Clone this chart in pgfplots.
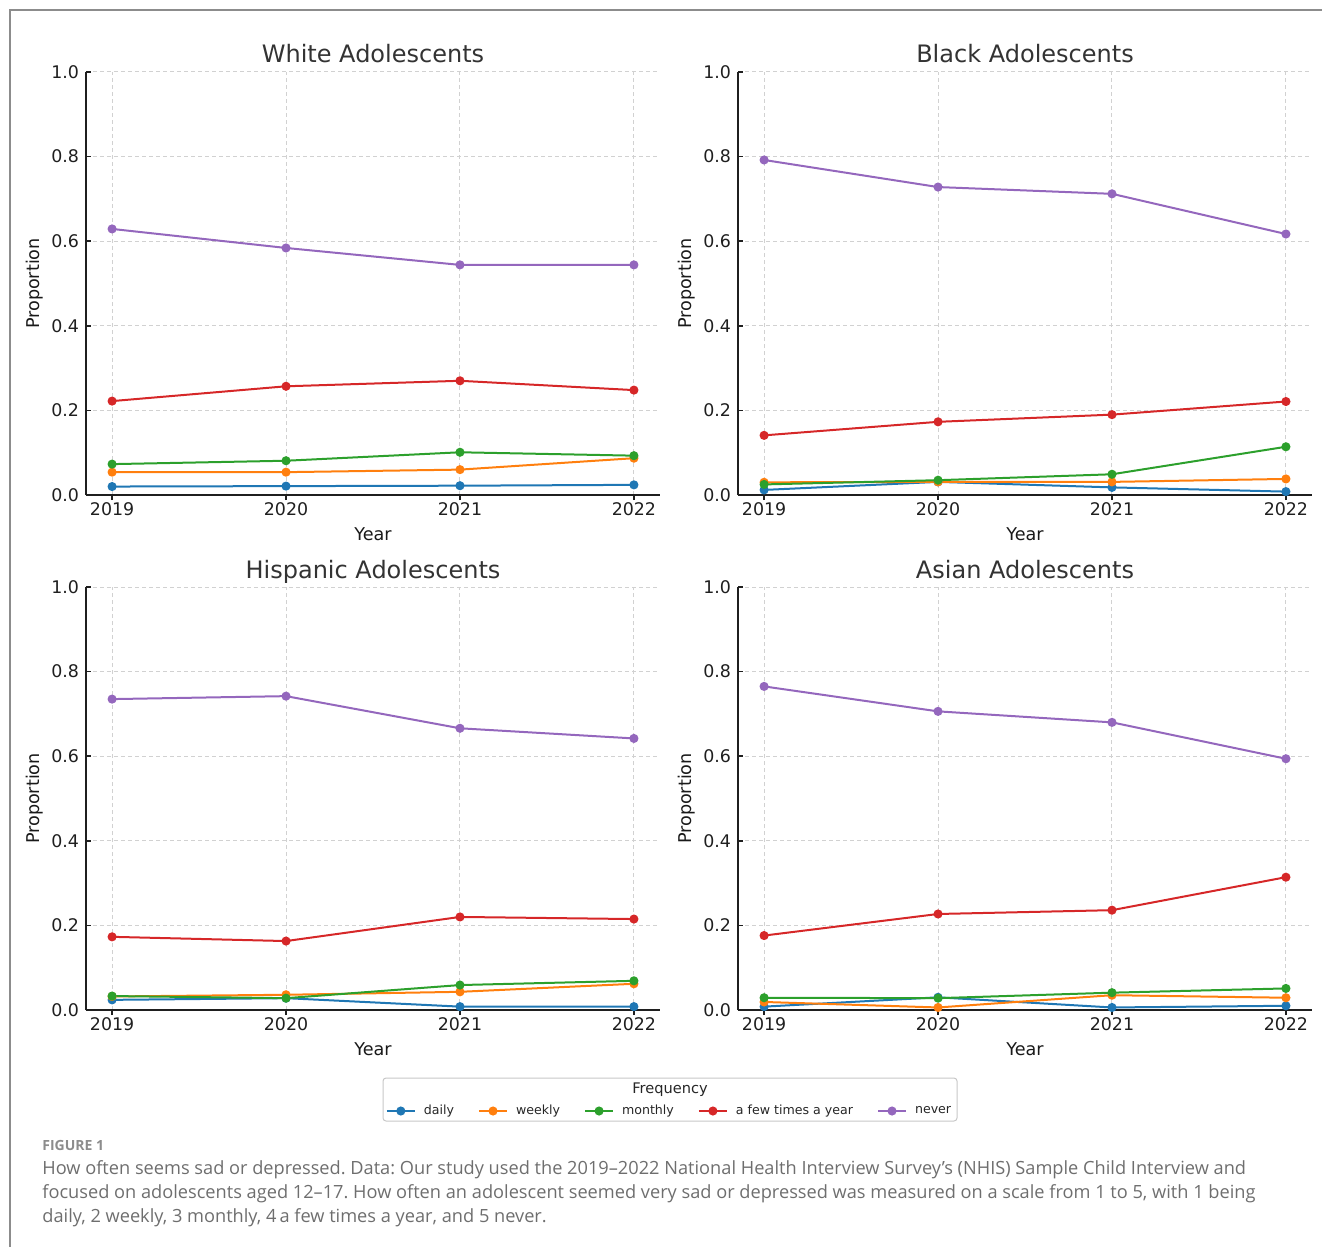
\documentclass[border=0pt]{standalone}
\usepackage{fontspec}
\setmainfont{DejaVu Sans}
\newfontfamily\capfont{Open Sans}
\usepackage{pgfplots}
\usepackage{pgfplotstable}
\pgfplotsset{compat=1.18}
\definecolor{cdaily}{HTML}{1F77B4}
\definecolor{cweekly}{HTML}{FF7F0E}
\definecolor{cmonthly}{HTML}{2CA02C}
\definecolor{cfew}{HTML}{D62728}
\definecolor{cnever}{HTML}{9467BD}
\definecolor{captxt}{HTML}{6E6E6E}

\pgfplotstableread{
year daily weekly monthly few never
2019 0.020 0.054 0.073 0.222 0.629
2020 0.021 0.054 0.081 0.257 0.584
2021 0.022 0.060 0.101 0.270 0.544
2022 0.024 0.087 0.093 0.248 0.544
}\tabwhite
\pgfplotstableread{
year daily weekly monthly few never
2019 0.012 0.030 0.025 0.141 0.792
2020 0.031 0.031 0.035 0.173 0.728
2021 0.018 0.031 0.049 0.190 0.712
2022 0.008 0.038 0.114 0.221 0.617
}\tabblack
\pgfplotstableread{
year daily weekly monthly few never
2019 0.024 0.032 0.033 0.173 0.735
2020 0.028 0.036 0.028 0.163 0.742
2021 0.008 0.043 0.059 0.220 0.666
2022 0.008 0.062 0.069 0.215 0.642
}\tabhispanic
\pgfplotstableread{
year daily weekly monthly few never
2019 0.008 0.019 0.029 0.176 0.765
2020 0.030 0.006 0.028 0.227 0.706
2021 0.006 0.035 0.041 0.236 0.680
2022 0.010 0.029 0.051 0.314 0.594
}\tabasian

\pgfplotsset{panel/.style={
  width=287pt, height=211.5pt, scale only axis,
  xmin=2018.85, xmax=2022.15, ymin=0, ymax=1,
  xtick={2019,2020,2021,2022}, ytick={0,0.2,0.4,0.6,0.8,1.0},
  /pgf/number format/assume math mode=true,
  yticklabel style={/pgf/number format/.cd, fixed, fixed zerofill, precision=1},
  xticklabel style={yshift=2pt, /pgf/number format/.cd, 1000 sep={}},
  axis x line*=bottom, axis y line*=left,
  axis line style={-, line width=1pt, color=black!88},
  xtick align=outside, ytick align=inside,
  major tick length=2.5pt,
  tick style={line width=0.8pt, color=black!88},
  grid=major, grid style={dashed, dash pattern=on 2pt off 1.5pt, color=black!18, line width=0.5pt},
  tick label style={font=\fontsize{8.7}{10}\selectfont, text=black!88},
  label style={font=\fontsize{8.8}{10}\selectfont, text=black!90},
  xlabel=Year, ylabel=Proportion,
  xlabel style={at={(axis description cs:0.5,-0.1064)}, anchor=base},
  ylabel style={at={(axis description cs:-0.0889,0.5)}, anchor=center},
  title style={at={(axis description cs:0.5,1)}, anchor=base, yshift=-1.5pt,
     font=\fontsize{12}{14}\selectfont, text=black!80},
  every axis plot/.append style={line width=1pt, mark=*, mark size=1.75pt},
  legend image code/.code={\draw[mark repeat=2,mark phase=2] plot coordinates {(0pt,0pt) (7pt,0pt) (14pt,0pt)};},
}}
\newcommand{\series}[1]{%
  \addplot[color=cdaily] table[x=year,y=daily] {#1};
  \addplot[color=cweekly] table[x=year,y=weekly] {#1};
  \addplot[color=cmonthly] table[x=year,y=monthly] {#1};
  \addplot[color=cfew] table[x=year,y=few] {#1};
  \addplot[color=cnever] table[x=year,y=never] {#1};
}

\begin{document}
\frenchspacing
\begin{tikzpicture}
% frame
\draw[color=black!45, line width=0.75pt] (5pt,-623.5pt) -- (5pt,-5pt) -- (661pt,-5pt);

\begin{axis}[panel, at={(43pt,-36pt)}, anchor=north west, title={White Adolescents}]
\series{\tabwhite}
\end{axis}
\begin{axis}[panel, at={(369pt,-36pt)}, anchor=north west, title={Black Adolescents}]
\series{\tabblack}
\end{axis}
\begin{axis}[panel, at={(43pt,-293.5pt)}, anchor=north west, title={Hispanic Adolescents},
  legend columns=5,
  legend style={at={(axis description cs:1.0174,-0.2388)}, anchor=center, draw=none, fill=none,
    font=\fontsize{6.3}{7}\selectfont, text=black!85,
    /tikz/every odd column/.append style={column sep=2.5pt},
    /tikz/every even column/.append style={column sep=10.5pt},
    nodes={inner sep=1.5pt}, row sep=0pt, line width=0.6pt, mark size=1.6pt},
  ]
\series{\tabhispanic}
\legend{daily,weekly,monthly,a few times a year,never}
\end{axis}
\begin{axis}[panel, at={(369pt,-293.5pt)}, anchor=north west, title={Asian Adolescents}]
\series{\tabasian}
\end{axis}

% legend box and title
\draw[color=black!22, line width=0.5pt, rounded corners=1.5pt] (191.5pt,-539pt) rectangle (478.5pt,-560.5pt);
\node[font=\fontsize{7.3}{8}\selectfont, text=black!85] at (335pt,-545pt) {Frequency};

% caption
\node[anchor=base west, inner sep=0pt, font=\capfont\bfseries\fontsize{7}{8}\selectfont, text=black!45] at (21pt,-575pt) {FIGURE 1};
\begin{scope}[every node/.style={anchor=base west, inner sep=0pt, font=\capfont\fontsize{9.1}{10}\selectfont, text=captxt}]
\node at (21pt,-587pt) {How often seems sad or depressed. Data: Our study used the 2019–2022 National Health Interview Survey’s (NHIS) Sample Child Interview and};
\node at (21pt,-599pt) {focused on adolescents aged 12–17. How often an adolescent seemed very sad or depressed was measured on a scale from 1 to 5, with 1 being};
\node at (21pt,-611pt) {daily, 2 weekly, 3 monthly, 4\,a few times a year, and 5 never.};
\end{scope}

\pgfresetboundingbox
\useasboundingbox (0pt,0pt) rectangle (661pt,-623.5pt);
\end{tikzpicture}
\end{document}
